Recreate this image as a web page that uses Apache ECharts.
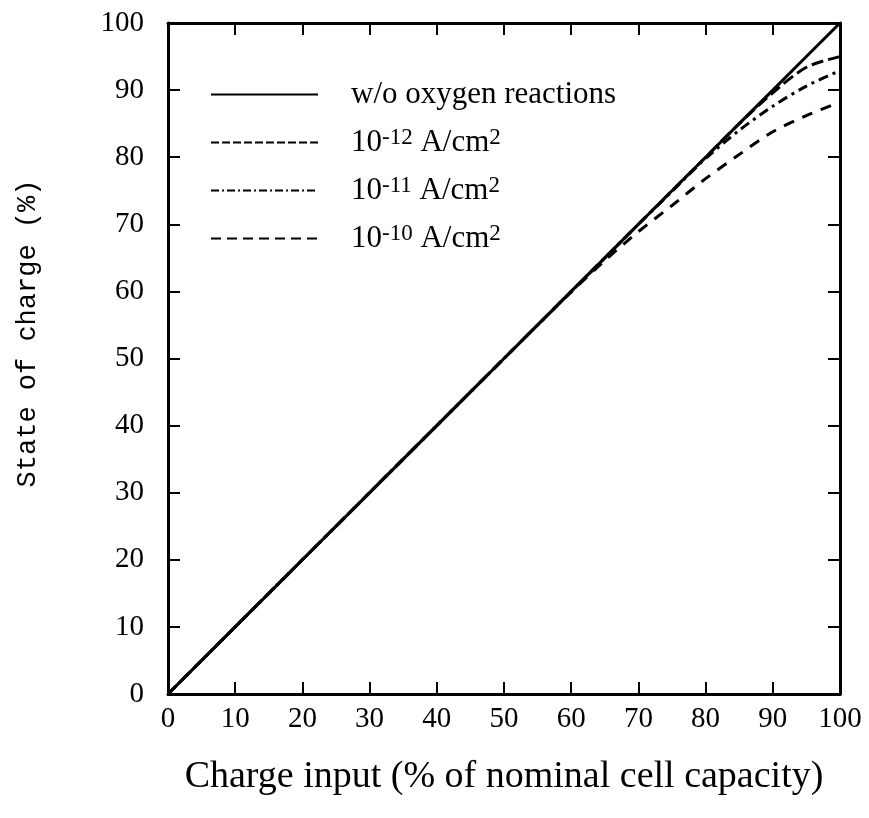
<!DOCTYPE html>
<html>
<head>
<meta charset="utf-8">
<script src="https://cdn.jsdelivr.net/npm/echarts@6/dist/echarts.min.js"></script>
<style>html,body{margin:0;padding:0;background:#fff}#c{width:869px;height:818px}</style>
</head>
<body>
<div id="c"></div>
<script>
var chargeInput = [0,5,10,15,20,25,30,35,40,45,50,55,60,65,70,75,80,85,90,95,100];
var socNoOxygen = [0,5,10,15,20,25,30,35,40,45,50,55,60,65,70,75,80,85,90,95,100];
var soc1e12 = [0,5,10,15,20,25,30,35,40,45,50,55,60,65,70,75,80,85,89.6,93.4,95.0];
var soc1e11 = [0,5,10,15,20,25,30,35,40,45,50,55,60,65,70,74.9,79.8,84.0,87.6,90.6,92.9];
var soc1e10 = [0,5,10,15,20,25,30,35,40,45,50,55,59.9,64.6,68.9,72.8,76.8,80.4,83.8,86.2,88.2];
var seriesNames = ['w/o oxygen reactions','10^-12','10^-11','10^-10'];
var xTicks = [0,10,20,30,40,50,60,70,80,90,100];
var xTitle = 'Charge input (% of nominal cell capacity)';
var yTitle = 'State of charge (%)';

function pairs(ys){ return chargeInput.map(function(x,i){ return [x, ys[i]]; }); }

var serif = 'Liberation Serif';
var tickStyle = {show:true, inside:true, length:12, lineStyle:{color:'#000', width:2}};
var lineAx = {show:true, onZero:false, lineStyle:{color:'#000', width:3}};
var legendDash = ['solid', [8,3], [8,3,2,3], [10,6]];

var chart = echarts.init(document.getElementById('c'), null, {renderer:'canvas'});
chart.setOption({
  animation:false,
  backgroundColor:'#fff',
  grid:{left:168, right:29, top:23, bottom:124, containLabel:false},
  legend:{
    show:true,
    orient:'vertical', left:205, top:74, itemWidth:107, itemHeight:14, itemGap:16,
    itemStyle:{opacity:0},
    data:seriesNames.map(function(n,i){
      return {name:n, lineStyle:{width:2, type:legendDash[i], color:'#000'}};
    }),
    textStyle:{fontFamily:serif, fontSize:31, color:'#000', padding:[0,0,0,28],
      rich:{
        n:{fontFamily:serif, fontSize:31, color:'#000'},
        s:{fontFamily:serif, fontSize:23, color:'#000', verticalAlign:'top', padding:[0,0,10,0]}
      }},
    formatter:function(name){
      if(name.indexOf('10^')===0){
        var e = name.slice(3);
        return '{n|10}{s|'+e+'}{n| A/cm}{s|2}';
      }
      return name;
    }
  },
  xAxis:[{
    type:'value', min:0, max:100, interval:10, position:'bottom',
    axisLine:lineAx, axisTick:tickStyle, splitLine:{show:false},
    axisLabel:{fontFamily:serif, fontSize:29, color:'#000', margin:11},
    name:xTitle, nameLocation:'middle', nameGap:64,
    nameTextStyle:{fontFamily:serif, fontSize:38, color:'#000'}
  },{
    type:'value', min:0, max:100, interval:10, position:'top',
    axisLine:lineAx, axisTick:tickStyle, splitLine:{show:false}, axisLabel:{show:false}
  }],
  yAxis:[{
    type:'value', min:0, max:100, interval:10, position:'left',
    axisLine:lineAx, axisTick:tickStyle, splitLine:{show:false},
    axisLabel:{fontFamily:serif, fontSize:29, color:'#000', margin:24},
    name:yTitle, nameLocation:'middle', nameGap:127, nameRotate:90,
    nameTextStyle:{fontFamily:'Liberation Mono', fontSize:27, color:'#000', padding:[0,0,0,50]}
  },{
    type:'value', min:0, max:100, interval:10, position:'right',
    axisLine:lineAx, axisTick:tickStyle, splitLine:{show:false}, axisLabel:{show:false}
  }],
  series:[
    {name:seriesNames[0], type:'line', data:pairs(socNoOxygen), showSymbol:false, symbol:'none',
     lineStyle:{color:'#000', width:3, type:'solid'}, itemStyle:{color:'#000'}},
    {name:seriesNames[1], type:'line', data:pairs(soc1e12), showSymbol:false, symbol:'none', smooth:0.3,
     lineStyle:{color:'#000', width:3, type:[12,5]}, itemStyle:{color:'#000'}},
    {name:seriesNames[2], type:'line', data:pairs(soc1e11), showSymbol:false, symbol:'none', smooth:0.3,
     lineStyle:{color:'#000', width:3, type:[10,5,3,5]}, itemStyle:{color:'#000'}},
    {name:seriesNames[3], type:'line', data:pairs(soc1e10), showSymbol:false, symbol:'none', smooth:0.3,
     lineStyle:{color:'#000', width:3, type:[11,9]}, itemStyle:{color:'#000'}}
  ]
});
</script>
</body>
</html>
